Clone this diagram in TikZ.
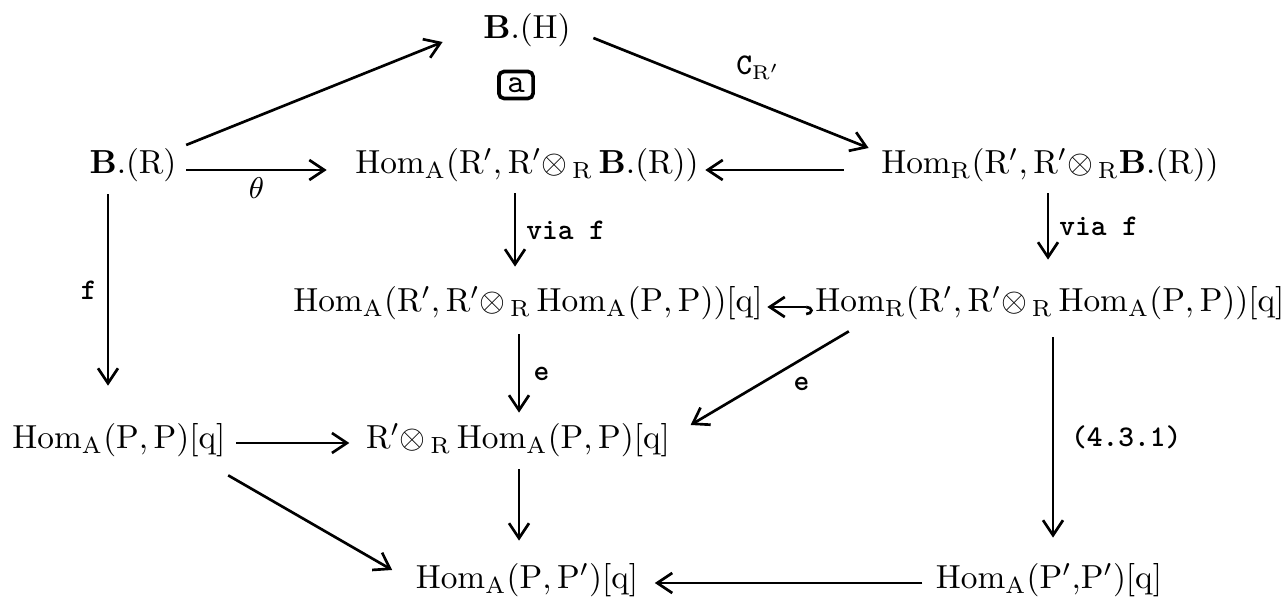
\documentclass[tikz,border=0pt]{standalone}
\usetikzlibrary{arrows.meta}
\newcommand{\HomOf}[1]{\mathrm{Hom}_{\mathrm{#1}}}
\newcommand{\Bdot}{\mathbf{B.}}
\newcommand{\tens}{{\otimes}_{\mkern3mu\mathrm{R}}\,}
\begin{document}
\begin{tikzpicture}[x=0.3pt,y=-0.3pt,
  obj/.style={inner sep=0pt, font=\fontsize{10}{12}\selectfont},
  lbl/.style={font=\fontsize{9}{10}\ttfamily\bfseries, inner sep=1pt},
  arr/.style={line width=0.8pt, -{Straight Barb[length=4.5pt,width=6pt,line width=0.8pt]}},
  hookarr/.style={line width=0.8pt, {Hooks[right,length=2pt,width=5pt]}-{Straight Barb[length=4.5pt,width=6pt,line width=0.8pt]}},
  boxlbl/.style={draw, line width=1.1pt, rounded corners=1.5pt, inner xsep=2.5pt, inner ysep=1.8pt, font=\fontsize{10}{11}\ttfamily}
]
\useasboundingbox (0,0) rectangle (1288,606);
% objects
\node[obj] (BH) at (527,30) {$\Bdot(\mathrm{H})$};
\node[boxlbl] (boxa) at (516,85) {a};
\node[obj] (BR) at (133,165) {$\Bdot(\mathrm{R})$};
\node[obj] (HA1) at (527,165) {$\HomOf{A}(\mathrm{R}', \mathrm{R}'\tens\Bdot(\mathrm{R}))$};
\node[obj] (HR1) at (1050,165) {$\HomOf{R}(\mathrm{R}', \mathrm{R}'{\otimes}_{\mkern3mu\mathrm{R}}\Bdot(\mathrm{R}))$};
\node[obj] (HA2) at (528,303) {$\HomOf{A}(\mathrm{R}', \mathrm{R}'\tens\HomOf{A}(\mathrm{P}, \mathrm{P}))[\mathrm{q}]$};
\node[obj] (HR2) at (1050,303) {$\HomOf{R}(\mathrm{R}', \mathrm{R}'\tens\HomOf{A}(\mathrm{P}, \mathrm{P}))[\mathrm{q}]$};
\node[obj] (HP) at (119,440) {$\HomOf{A}(\mathrm{P}, \mathrm{P})[\mathrm{q}]$};
\node[obj] (RH) at (518,440) {$\mathrm{R}'\tens\HomOf{A}(\mathrm{P}, \mathrm{P})[\mathrm{q}]$};
\node[obj] (HPP) at (527,580) {$\HomOf{A}(\mathrm{P}, \mathrm{P}')[\mathrm{q}]$};
\node[obj] (HPpPp) at (1049,580) {$\HomOf{A}(\mathrm{P}'{,}\mathrm{P}')[\mathrm{q}]$};
% arrows
\draw[arr] ([shift={(9,-20)}]BR.east) -- ([shift={(-40,12)}]BH.west);
\draw[arr] ([shift={(22,8)}]BH.east) -- node[lbl, pos=0.6, above=6pt] {C$_{\mathrm{R}'}$} ([shift={(-12,-17)}]HR1.west);
\draw[arr] ([shift={(9,5)}]BR.east) -- node[lbl, below=1pt] {$\theta$} ([shift={(-28,5)}]HA1.west);
\draw[arr] ([shift={(-37,5)}]HR1.west) -- ([shift={(6,5)}]HA1.east);
\draw[arr] ([shift={(-12,11)}]HA1.south) -- node[lbl, right=2pt] {via f} ([shift={(-13,-19)}]HA2.north);
\draw[arr] ([shift={(-2,11)}]HR1.south) -- node[lbl, right=2pt] {via f} ([shift={(-2,-26)}]HR2.north);
\draw[hookarr] ([shift={(-2,4)}]HR2.west) -- ([shift={(4,4)}]HA2.east);
\draw[arr] ([shift={(-25,12)}]BR.south) -- node[lbl, left=2pt] {f} ([shift={(-11,-37)}]HP.north);
\draw[arr] ([shift={(-9,14)}]HA2.south) -- node[lbl, right=3pt] {e} ([shift={(1,-10)}]RH.north);
\draw[arr] ([shift={(34,11)}]HR2.south west) -- node[lbl, pos=0.4, below right=1pt] {e} ([shift={(20,-15)}]RH.east);
\draw[arr] ([shift={(3,17)}]HR2.south) -- node[lbl, right=4pt, pos=0.5] {(4.3.1)} ([shift={(4,-25)}]HPpPp.north);
\draw[arr] ([shift={(10,3)}]HP.east) -- ([shift={(-16,3)}]RH.west);
\draw[arr] ([shift={(2,18)}]HP.south east) -- ([shift={(-23,-10)}]HPP.west);
\draw[arr] ([shift={(1,12)}]RH.south) -- ([shift={(-8,-22)}]HPP.north);
\draw[arr] ([shift={(-13,3)}]HPpPp.west) -- ([shift={(16,3)}]HPP.east);
\end{tikzpicture}
\end{document}
